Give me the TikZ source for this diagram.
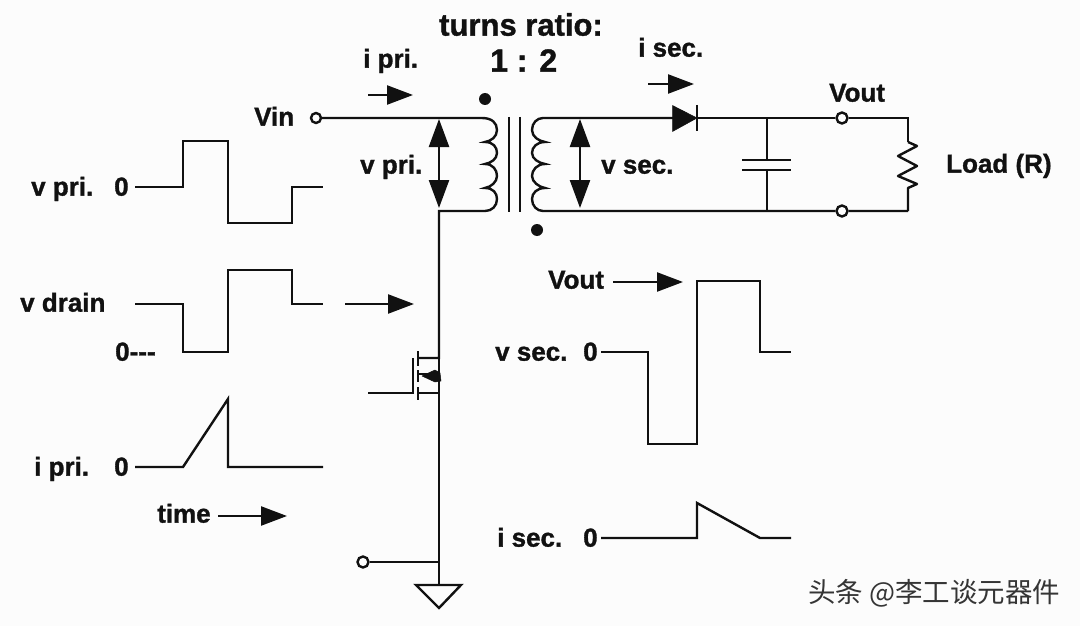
\documentclass[tikz,border=0pt]{standalone}
\usepackage{fontspec}
\setmainfont[BoldFeatures={FakeBold=1.2}]{Liberation Sans}
\newfontfamily\cjk{Noto Sans CJK SC}
\usetikzlibrary{arrows.meta}
\definecolor{ink}{HTML}{111111}
\tikzset{
  wire/.style={draw=ink,line width=2.4pt,line join=miter},
  flow/.style={wire,-{Triangle[length=26pt,width=19pt]}},
  span/.style={wire,{Triangle[length=28pt,width=20pt]}-{Triangle[length=28pt,width=20pt]}},
  lbl/.style={font=\bfseries\fontsize{26}{28}\selectfont,text=ink,inner sep=0pt,anchor=mid west,yshift=-6pt},
  term/.style={circle,draw=ink,line width=2.4pt,fill=white,minimum size=11pt,inner sep=0pt},
  dotmark/.style={circle,fill=ink,minimum size=12pt,inner sep=0pt}
}
\begin{document}
\begin{tikzpicture}[x=1pt,y=-1pt]
\useasboundingbox (0,0) rectangle (1080,626);
\fill[white!99!black] (0,0) rectangle (1080,626);
% labels
\node[lbl,font=\bfseries\fontsize{31}{33}\selectfont] (title) at (439,27) {turns ratio:};
\node[lbl,font=\bfseries\fontsize{32}{34}\selectfont] (ratio) at (490,63) {1 : 2};
\node[lbl] (lipri) at (363,59) {i pri.};
\node[lbl] (lisec) at (638,48) {i sec.};
\node[lbl] (lvin) at (254,117) {Vin};
\node[lbl] (lvpri) at (360,165) {v pri.};
\node[lbl] (lvsec) at (601,165) {v sec.};
\node[lbl] (lvout) at (829,93) {Vout};
\node[lbl] (lload) at (946,164) {Load (R)};
\node[lbl] (wvpri) at (31,187) {v pri.};
\node[lbl] (wvpriz) at (114,187) {0};
\node[lbl] (wvd) at (20,303) {v drain};
\node[lbl] (wvdz) at (115,352) {0{-}{-}{-}};
\node[lbl] (wipri) at (34,467) {i pri.};
\node[lbl] (wiz) at (114,467) {0};
\node[lbl] (ltime) at (157,514) {time};
\node[lbl] (lvout2) at (548,280) {Vout};
\node[lbl] (wvsec) at (495,352) {v sec.};
\node[lbl] (wvsz) at (583,352) {0};
\node[lbl] (wisec) at (497,538) {i sec.};
\node[lbl] (wisz) at (583,538) {0};
\node[anchor=mid west,inner sep=0pt,text=ink!85,font=\cjk\fontsize{27.5}{29}\selectfont,yshift=-6pt] (mark) at (808,594) {头条 @李工谈元器件};
% terminals
\node[term,minimum size=10pt] (vin) at (316,118) {};
\node[term] (out1) at (842,118) {};
\node[term] (out2) at (842,211) {};
\node[term] (gnd) at (363,562) {};
\node[dotmark] (d1) at (485,99) {};
\node[dotmark] (d2) at (537,230) {};
% coordinates
\coordinate (ptop) at (482,118);
\coordinate (pbot) at (485,211);
\coordinate (stop) at (543,118);
\coordinate (sbot) at (543,211);
\coordinate (njt) at (439,118);
\coordinate (njb) at (439,211);
\coordinate (drainL) at (418,358);
\coordinate (drainR) at (439,358);
\coordinate (srcL) at (418,393);
\coordinate (srcR) at (439,393);
\coordinate (bodyL) at (418,374);
\coordinate (bodyR) at (439,374);
\coordinate (gate) at (413,393);
\coordinate (gatein) at (368,393);
\coordinate (gndj) at (439,562);
\coordinate (gndt) at (439,585);
\coordinate (dA) at (673,118);
\coordinate (dK) at (697,118);
\coordinate (capT) at (767,118);
\coordinate (capB) at (767,211);
\coordinate (rT) at (908,118);
\coordinate (rB) at (908,211);
% primary
\draw[wire] (vin) -- (ptop) .. controls (492,118) and (497,123) .. (497,130)
  .. controls (497,137) and (491,141) .. (485,142)
  .. controls (493,142) and (497,147) .. (497,153)
  .. controls (497,159) and (491,163) .. (485,164)
  .. controls (493,164) and (497,170) .. (497,176)
  .. controls (497,182) and (491,187) .. (485,188)
  .. controls (493,188) and (497,193) .. (497,199)
  .. controls (497,206) and (492,211) .. (pbot) -- (njb) -- (drainR) -- (drainL);
\draw[wire] (509,117) -- (509,212) (520,117) -- (520,212);
% secondary
\draw[wire] (dA) -- (stop) .. controls (537,118) and (532,123) .. (532,130)
  .. controls (532,137) and (539,141) .. (545,142)
  .. controls (537,142) and (532,147) .. (532,153)
  .. controls (532,159) and (539,163) .. (545,164)
  .. controls (537,164) and (532,170) .. (532,176)
  .. controls (532,182) and (539,187) .. (545,188)
  .. controls (537,188) and (532,193) .. (532,199)
  .. controls (532,206) and (537,211) .. (sbot) -- (capB) -- (out2) -- (rB);
\draw[span] (439,119) -- (439,208);
\draw[span] (580,119) -- (580,208);
% diode
\draw[wire] (dK) -- (capT) -- (out1) -- (rT) -- (908,142);
\filldraw[draw=ink,fill=ink,line width=.5pt] (672.5,105.5) -- (697,118) -- (672.5,131.5) -- cycle;
\draw[wire] (697,105) -- (697,131);
% capacitor
\draw[wire] (capT) -- (767,160) (767,170) -- (capB);
\draw[wire] (742,160) -- (791,160) (742,170) -- (791,170);
% resistor
\draw[wire,line join=round] (908,142) -- (917,146) -- (898,156) -- (917,166) -- (898,176) -- (917,184) -- (908,188) -- (rB);
% MOSFET
\draw[wire] (drainR) -- (bodyR);
\draw[wire] (418,351) -- (418,366) (418,370) -- (418,382) (418,387) -- (418,400);
\draw[wire] (gatein) -- (gate) -- (413,358);
\draw[wire] (srcL) -- (srcR);
\draw[wire] (bodyR) -- (srcR) -- (gndt);
\draw[wire] (bodyL) -- (bodyR);
\filldraw[draw=ink,fill=ink,line width=.5pt,line join=round] (422,376) -- (435,370) -- (440,373) -- (441,381) -- (435,382) -- cycle;
% ground
\draw[wire] (gnd) -- (gndj);
\draw[wire,line join=miter] (416,585) -- (461,585) -- (439,608) -- cycle;
% flow arrows
\draw[flow] (368,95) -- (413,95);
\draw[flow] (648,84) -- (694,84);
\draw[flow] (345,304) -- (414,304);
\draw[flow] (613,282) -- (683,282);
\draw[flow] (218,516) -- (287,516);
% waveforms
\draw[wire] (135,187) -- (183,187) -- (183,141) -- (228,141) -- (228,223) -- (292,223) -- (292,187) -- (323,187);
\draw[wire] (135,304) -- (183,304) -- (183,352) -- (228,352) -- (228,270) -- (292,270) -- (292,304) -- (323,304);
\draw[wire] (135,467) -- (183,467) -- (228,399) -- (228,467) -- (323,467);
\draw[wire] (601,352) -- (648,352) -- (648,444) -- (697,444) -- (697,281) -- (760,281) -- (760,352) -- (791,352);
\draw[wire] (601,538) -- (697,538) -- (697,503) -- (760,538) -- (791,538);
\end{tikzpicture}
\end{document}
